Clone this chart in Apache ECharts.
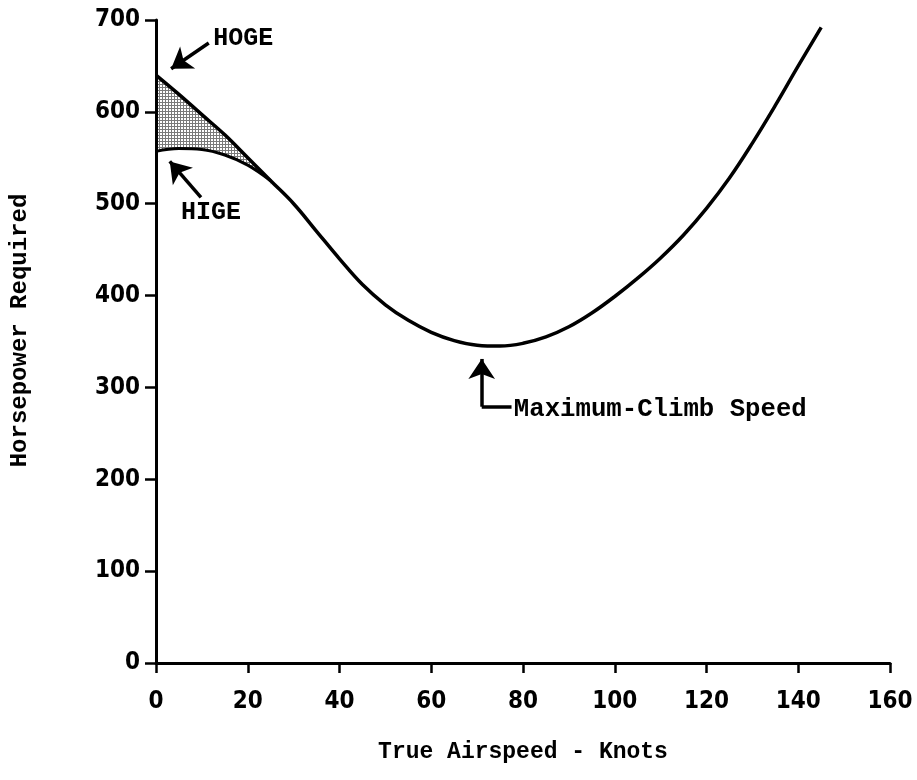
<!DOCTYPE html>
<html><head><meta charset="utf-8">
<script src="https://cdn.jsdelivr.net/npm/echarts@6.0.0/dist/echarts.min.js"></script>
<style>html,body{margin:0;padding:0;background:#fff}#c{width:917px;height:780px}</style>
</head><body><div id="c"></div>
<script>
// ---- data ----
const xTicks = [0, 20, 40, 60, 80, 100, 120, 140, 160];
const yTicks = [0, 100, 200, 300, 400, 500, 600, 700];
const hogeX = [0, 5, 10, 15, 20, 25, 30, 35, 40, 45, 50, 55, 60, 65, 70, 75, 80, 85, 90, 95, 100, 105, 110, 115, 120, 125, 130, 135, 140, 145];
const hogeY = [640, 619, 597, 575, 550, 525, 500, 470, 440, 412, 390, 373, 360, 351, 346, 345, 348, 355, 366, 381, 399, 419, 441, 466, 495, 528, 566, 607, 650, 692];
const higeX = [0, 5, 10, 15, 20, 25];
const higeY = [557, 560, 559, 553, 542, 525];
const xTitle = 'True Airspeed - Knots';
const yTitle = 'Horsepower Required';
const labelHoge = 'HOGE';
const labelHige = 'HIGE';
const labelClimb = 'Maximum-Climb Speed';
// annotation anchors in data units
const hogeArrow = [[11.5, 675], [3.3, 647]];
const higeArrow = [[9.8, 507], [3.0, 546]];
const climbArrow = [[71, 279], [71, 331]];
const climbElbow = [[71, 279], [77.5, 279]];
const hogeTextAt = [19, 680];
const higeTextAt = [12, 490];
const climbTextAt = [78, 276];

// ---- build ----
const pat = document.createElement('canvas');
pat.width = 3; pat.height = 3;
const pc = pat.getContext('2d');
pc.fillStyle = '#ffffff'; pc.fillRect(0, 0, 3, 3);
pc.fillStyle = '#7a7a7a'; pc.fillRect(0, 0, 3, 1); pc.fillRect(0, 0, 1, 3);

const hoge = hogeX.map((x, i) => [x, hogeY[i]]);
const hige = higeX.map((x, i) => [x, higeY[i]]);
const hogeNear = hoge.filter(p => p[0] <= higeX[higeX.length - 1]);
const higeMin = Math.min.apply(null, higeY);

const monoFont = '"Liberation Mono", "DejaVu Sans Mono", monospace';
const numFont = '"DejaVu Sans Condensed", "DejaVu Sans", sans-serif';

const chart = echarts.init(document.getElementById('c'), null, {renderer: 'canvas'});
chart.setOption({
  animation: false,
  backgroundColor: '#fff',
  grid: {left: 156, right: 27, top: 20, bottom: 117, containLabel: false, outerBoundsMode: 'none'},
  xAxis: {
    type: 'value', min: xTicks[0], max: xTicks[xTicks.length - 1], interval: 20, z: 10,
    splitLine: {show: false},
    axisLine: {show: true, lineStyle: {color: '#000', width: 3}},
    axisTick: {show: true, length: 10, lineStyle: {color: '#000', width: 2.5}},
    axisLabel: {color: '#000', fontFamily: numFont, fontWeight: 'bold', fontSize: 24, margin: 27},
    name: xTitle, nameLocation: 'middle', nameGap: 78,
    nameTextStyle: {color: '#000', fontFamily: monoFont, fontWeight: 'bold', fontSize: 23}
  },
  yAxis: {
    type: 'value', min: yTicks[0], max: yTicks[yTicks.length - 1], interval: 100, z: 10,
    splitLine: {show: false},
    axisLine: {show: true, lineStyle: {color: '#000', width: 3}},
    axisTick: {show: true, length: 11, lineStyle: {color: '#000', width: 2.5}},
    axisLabel: {color: '#000', fontFamily: numFont, fontWeight: 'bold', fontSize: 24, margin: 16},
    name: yTitle, nameLocation: 'middle', nameGap: 124, nameRotate: 90,
    nameTextStyle: {color: '#000', fontFamily: monoFont, fontWeight: 'bold', fontSize: 24, padding: [0, 0, 0, 22]}
  },
  series: [
    {
      name: 'bandTop', type: 'line', data: hogeNear, smooth: 0.4,
      showSymbol: false, symbol: 'none',
      lineStyle: {width: 0, opacity: 0},
      areaStyle: {color: {image: pat, repeat: 'repeat'}, opacity: 1, origin: higeMin - 4}, z: 2
    },
    {
      name: 'HIGE', type: 'line', data: hige, smooth: 0.4,
      showSymbol: false, symbol: 'none',
      lineStyle: {color: '#000', width: 3},
      areaStyle: {color: '#fff', opacity: 1, origin: higeMin - 12}, z: 3
    },
    {
      name: 'HOGE', type: 'line', data: hoge, smooth: 0.4,
      showSymbol: false, symbol: 'none',
      lineStyle: {color: '#000', width: 3.5}, z: 4,
      markLine: {
        silent: true, animation: false,
        symbol: ['none', 'arrow'], symbolSize: 20,
        label: {show: false},
        lineStyle: {color: '#000', width: 3.5, type: 'solid'},
        emphasis: {disabled: true},
        data: [
          [{coord: hogeArrow[0]}, {coord: hogeArrow[1]}],
          [{coord: higeArrow[0]}, {coord: higeArrow[1]}],
          [{coord: climbArrow[0]}, {coord: climbArrow[1]}],
          [{coord: climbElbow[0], symbol: 'none'}, {coord: climbElbow[1], symbol: 'none'}]
        ]
      },
      markPoint: {
        silent: true, animation: false,
        symbol: 'circle', symbolSize: 0,
        itemStyle: {color: 'rgba(0,0,0,0)'},
        data: [
          {coord: hogeTextAt, label: {show: true, formatter: labelHoge, position: 'inside', color: '#000', fontFamily: monoFont, fontWeight: 'bold', fontSize: 25}},
          {coord: higeTextAt, label: {show: true, formatter: labelHige, position: 'inside', color: '#000', fontFamily: monoFont, fontWeight: 'bold', fontSize: 25}},
          {coord: climbTextAt, label: {show: true, formatter: labelClimb, position: 'right', distance: 0, color: '#000', fontFamily: monoFont, fontWeight: 'bold', fontSize: 25.7}}
        ]
      }
    }
  ]
});
</script>
</body></html>
